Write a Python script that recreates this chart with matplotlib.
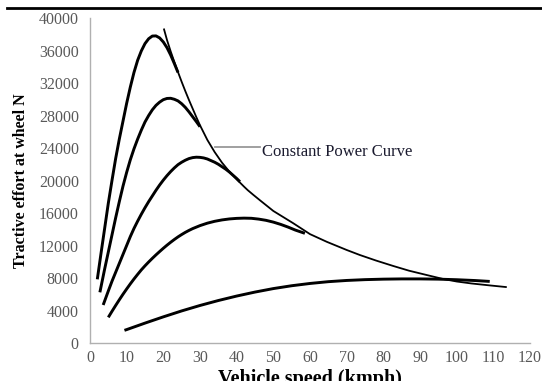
import numpy as np
import matplotlib.pyplot as plt
from matplotlib.lines import Line2D

# speed (kmph) / tractive effort (N)
gear1_x = [2, 3, 4, 5, 6, 7, 8, 9, 10, 11, 12, 13, 14, 15, 16, 17, 18, 19, 20, 21, 22, 23, 24]
gear1_y = [7840, 11000, 14100, 17200, 20000, 22700, 25100, 27300, 29500, 31500, 33300, 34800, 35950,
           36850, 37450, 37780, 37800, 37550, 37050, 36350, 35450, 34400, 33300]

gear2_x = [2.7, 4, 5, 6, 7, 8, 9, 10, 11, 12, 13, 14, 15, 16, 17, 18, 19, 20, 21, 22, 23, 24, 25,
           26, 27, 28, 29, 30]
gear2_y = [6240, 9100, 11200, 13300, 15400, 17400, 19300, 21000, 22550, 23900, 25100, 26200, 27200,
           28000, 28700, 29250, 29650, 29950, 30100, 30120, 30000, 29800, 29450, 29000, 28450,
           27850, 27250, 26620]

gear3_x = [3.6, 5, 6, 7, 8, 9, 10, 11, 12, 13, 14, 15, 16, 17, 18, 19, 20, 21, 22, 23, 24, 25, 26,
           27, 28, 29, 30, 31, 32, 33, 34, 35, 36, 37, 38, 39, 40, 40.9]
gear3_y = [4680, 6400, 7600, 8700, 9800, 10900, 12000, 13100, 14100, 15000, 15850, 16650, 17400,
           18100, 18800, 19450, 20050, 20600, 21100, 21550, 21950, 22250, 22500, 22700, 22820,
           22870, 22850, 22780, 22650, 22450, 22250, 22000, 21700, 21400, 21050, 20650, 20250, 19850]

gear4_x = [5, 6, 7, 8, 9, 10, 11, 12, 13, 14, 15, 16, 17, 18, 19, 20, 21, 22, 23, 24, 25, 26, 27,
           28, 30, 32, 34, 36, 38, 40, 42, 44, 46, 48, 50, 52, 54, 56, 58.6]
gear4_y = [3160, 3900, 4620, 5320, 6000, 6650, 7280, 7880, 8450, 9000, 9500, 9970, 10420, 10850,
           11260, 11660, 12040, 12400, 12740, 13060, 13350, 13620, 13860, 14080, 14450, 14750,
           14980, 15150, 15270, 15340, 15370, 15350, 15250, 15100, 14880, 14600, 14270, 13900, 13500]

gear5_x = [9.4, 10, 15, 20, 25, 30, 35, 40, 45, 50, 55, 60, 65, 70, 75, 80, 85, 90, 95, 100, 105, 109]
gear5_y = [1560, 1650, 2450, 3220, 3950, 4620, 5230, 5780, 6270, 6700, 7050, 7330, 7550, 7700,
           7800, 7860, 7890, 7890, 7860, 7790, 7690, 7580]

power_x = [20.2, 21, 22, 23, 24, 25, 26, 27, 28, 29, 30, 32, 34, 36, 38, 40, 41, 42, 43, 44.5, 46.4,
           50, 55.4, 60, 64.6, 70, 73.6, 78, 82.7, 87, 91.8, 96.3, 100, 104, 109, 113.4]
power_y = [38600, 37300, 35900, 34600, 33350, 32150, 31000, 29900, 28850, 27800, 26800, 25000,
           23500, 22200, 21100, 20150, 19700, 19250, 18820, 18250, 17550, 16250, 14750, 13400,
           12450, 11450, 10830, 10150, 9480, 8900, 8370, 7880, 7570, 7330, 7090, 6890]

gears_x = [gear1_x, gear2_x, gear3_x, gear4_x, gear5_x]
gears_y = [gear1_y, gear2_y, gear3_y, gear4_y, gear5_y]

x_ticks = list(range(0, 121, 10))
y_ticks = list(range(0, 40001, 4000))

label_pt = (34.1, 24100)
label_end = 46.4

plt.rcParams['font.family'] = ['Liberation Serif', 'DejaVu Serif']

fig = plt.figure(figsize=(5.42, 3.81), dpi=100)
ax = fig.add_axes([0.166, 0.0997, 0.812, 0.853])

for xs, ys in zip(gears_x, gears_y):
    ax.plot(xs, ys, color='black', lw=2.1, solid_joinstyle='round', solid_capstyle='butt')
ax.plot(power_x, power_y, color='black', lw=1.3, solid_joinstyle='round')

# leader line + label
ax.plot([label_pt[0], label_end], [label_pt[1], label_pt[1]], color='#999999', lw=1.3)
ax.text(label_end + 0.4, label_pt[1] - 550, 'Constant Power Curve', fontsize=12,
        color='#1a1a2e', va='center', ha='left')

ax.set_xlim(0, 120)
ax.set_ylim(0, 40000)
ax.set_xticks(x_ticks)
ax.set_yticks(y_ticks)
ax.tick_params(length=0, labelsize=11.5, labelcolor='#595959')
ax.tick_params(axis='y', pad=8)
ax.tick_params(axis='x', pad=5)
for s in ['top', 'right']:
    ax.spines[s].set_visible(False)
for s in ['left', 'bottom']:
    ax.spines[s].set_color('#b0b0b0')
    ax.spines[s].set_linewidth(1.0)

ax.set_ylabel('Tractive effort at wheel N', fontsize=11.5, fontweight='bold', labelpad=7)
fig.text(0.572, 0.031, 'Vehicle speed (kmph)', fontsize=14.5, fontweight='bold',
         ha='center', va='top')

# black rule across the top
fig.add_artist(Line2D([0.013, 1.0], [0.979, 0.979], color='black', lw=2.0))

fig.savefig('out.png', dpi=100)
